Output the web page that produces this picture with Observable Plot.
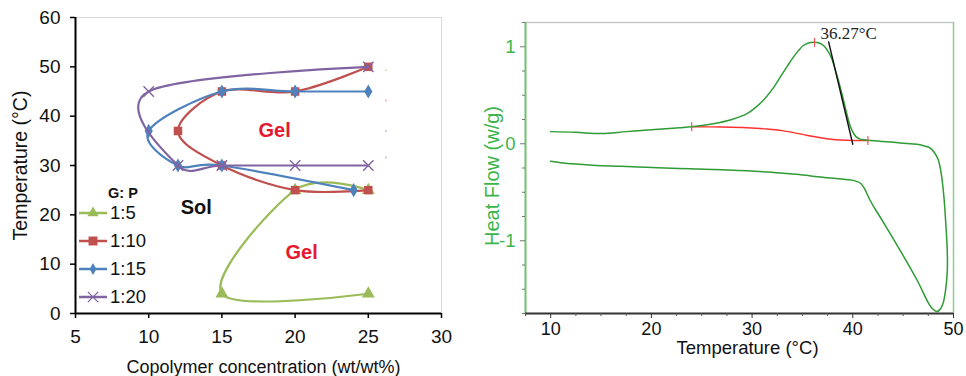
<!DOCTYPE html>
<html><head><meta charset="utf-8">
<script src="https://cdn.jsdelivr.net/npm/d3@7"></script>
<script src="https://cdn.jsdelivr.net/npm/@observablehq/plot@0.6"></script>
<style>
body{margin:0;background:#fff;}
#wrap{position:relative;width:966px;height:376px;overflow:hidden;background:#fff;font-family:"Liberation Sans",Arial,sans-serif;}
#left,#right{position:absolute;top:0;}
#left{left:0}
#right{left:480px}
#legend{position:absolute;left:0;top:0;width:0;height:0;}
#legend div{position:absolute;white-space:nowrap;color:#111;}
</style></head><body>
<div id="wrap"><div id="left"></div><div id="right"></div><div id="legend"></div></div>
<script>
// ---------- Left panel: phase diagram ----------
const seriesNames = ["1:5", "1:10", "1:15", "1:20"];
const seriesColors = ["#9BBB59", "#C0504D", "#4F81BD", "#8064A2"];
const seriesSymbols = ["triangle", "square", "diamond", "times"];
const conc_1_5  = [25, 20, 15, 25];
const temp_1_5  = [25, 25, 4, 4];
const conc_1_10 = [25, 20, 15, 12, 15, 20, 25];
const temp_1_10 = [50, 45, 45, 37, 30, 25, 25];
const conc_1_15 = [25, 20, 15, 10, 12, 15, 24];
const temp_1_15 = [45, 45, 45, 37, 30, 30, 25];
const conc_1_20 = [25, 10, 12, 15, 20, 25];
const temp_1_20 = [50, 45, 30, 30, 30, 30];
const concTicks = [5, 10, 15, 20, 25, 30];
const tempTicks = [0, 10, 20, 30, 40, 50, 60];
const regionLabels = ["Sol", "Gel", "Gel"];
const regionConc = [13.25, 18.6, 20.45];
const regionTemp = [21.4, 37.1, 12.4];
const regionColors = ["#111111", "#E5182F", "#E5182F"];
const strayConc = [26.2, 26.2, 26.2, 26.2];
const strayTemp = [49.3, 43.2, 37.0, 31.6];

// ---------- Right panel: DSC ----------
const dscTemp = [10,12.5,15,17.5,20,22.8,24,26.15,28,29.5,30.3,31.1,32,32.8,33.5,34.1,34.6,35.1,35.6,36.1,36.6,37.1,37.5,37.9,38.3,38.75,39.1,39.4,39.75,40.1,40.4,40.75,41.5,42.7,44.7,46.4,47.2,47.7,48.1,48.5,48.8,49.05,49.25,49.38,49.38,49.2,48.95,48.65,48.3,47.9,47.5,46.4,44.7,43.1,42.2,41.7,41.2,40.8,40.3,39.5,37,34.4,32,29.5,27,24.5,22,19.5,17,14.5,12.5,11,10];
const dscHeatFlow = [0.125,0.118,0.105,0.125,0.145,0.165,0.175,0.206,0.25,0.31,0.37,0.446,0.56,0.687,0.8,0.893,0.96,1.013,1.038,1.047,1.042,1.013,0.96,0.88,0.75,0.584,0.44,0.309,0.18,0.103,0.065,0.048,0.035,0.027,0.008,-0.005,-0.025,-0.045,-0.09,-0.17,-0.32,-0.55,-0.85,-1.1,-1.32,-1.52,-1.65,-1.71,-1.73,-1.7,-1.64,-1.41,-1.1,-0.82,-0.67,-0.58,-0.47,-0.41,-0.385,-0.37,-0.345,-0.315,-0.295,-0.278,-0.268,-0.26,-0.252,-0.242,-0.232,-0.224,-0.21,-0.195,-0.18];
const baseTemp = [24, 27, 29.5, 31.5, 33, 35.4, 37.4, 39.4, 41.5];
const baseHeatFlow = [0.175, 0.172, 0.165, 0.152, 0.135, 0.088, 0.052, 0.036, 0.034];
const tangentTemp = [37.6, 40.0];
const tangentHeatFlow = [1.05, -0.005];
const markTemp = [24, 36.2, 41.5];
const markHeatFlow = [0.175, 1.045, 0.034];
const onsetLabel = "36.27°C";
const onsetTemp = 36.8, onsetHeatFlow = 1.14;
const dscTempTicks = [10, 20, 30, 40, 50];
const dscTempMinor = [7.5, 12.5, 15, 17.5, 22.5, 25, 27.5, 32.5, 35, 37.5, 42.5, 45, 47.5];
const dscHFTicks = [-1, 0, 1];
const dscHFMinor = [-1.75, -1.5, -1.25, -0.75, -0.5, -0.25, 0.25, 0.5, 0.75, 1.25];

const FONT = '"Liberation Sans", Arial, sans-serif';
const green = "#3BB54A";

// ----- left plot -----
const concs = [conc_1_5, conc_1_10, conc_1_15, conc_1_20];
const temps = [temp_1_5, temp_1_10, temp_1_15, temp_1_20];
const leftMarks = [
  Plot.frame({stroke: "#d9d9d9"}),
];
seriesNames.forEach((name, i) => {
  const pts = concs[i].map((c, j) => ({c, t: temps[i][j]}));
  leftMarks.push(Plot.line(pts, {x: "c", y: "t", curve: "cardinal", stroke: seriesColors[i], strokeWidth: 2.2}));
  const isTimes = seriesSymbols[i] === "times";
  leftMarks.push(Plot.dot(pts, {
    x: "c", y: "t", symbol: seriesSymbols[i],
    r: isTimes ? 4.8 : (seriesSymbols[i] === "diamond" ? 4.3 : 4.8),
    fill: isTimes ? "none" : seriesColors[i],
    stroke: isTimes ? seriesColors[i] : "none",
    strokeWidth: 1.4
  }));
});
const stray = strayConc.map((c, i) => ({c, t: strayTemp[i], col: seriesColors[i]}));
leftMarks.push(Plot.dot(stray, {x: "c", y: "t", r: 1, fill: d => d.col, fillOpacity: 0.45}));
const regions = regionLabels.map((s, i) => ({s, c: regionConc[i], t: regionTemp[i], col: regionColors[i]}));
leftMarks.push(Plot.text(regions, {x: "c", y: "t", text: "s", fill: d => d.col, fontWeight: "bold", fontSize: 20}));
leftMarks.push(Plot.ruleX([concTicks[0]], {stroke: "#000", strokeWidth: 2}));
leftMarks.push(Plot.ruleY([tempTicks[0]], {stroke: "#000", strokeWidth: 2}));
leftMarks.push(Plot.axisX(concTicks, {tickSize: 5, tickPadding: 11, fontSize: 19, label: null, stroke: "#000", strokeWidth: 1.5}));
leftMarks.push(Plot.axisY(tempTicks, {tickSize: 5, tickPadding: 10, fontSize: 19, label: null, stroke: "#000", strokeWidth: 1.5}));
leftMarks.push(Plot.text(["Copolymer concentration (wt/wt%)"], {text: d => d, frameAnchor: "bottom", lineAnchor: "middle", textAnchor: "middle", dy: 54, dx: 5, fontSize: 18}));
leftMarks.push(Plot.text(["Temperature (°C)"], {text: d => d, frameAnchor: "left", textAnchor: "middle", lineAnchor: "middle", dx: -55, rotate: -90, fontSize: 19.5}));

const leftPlot = Plot.plot({
  width: 460, height: 376,
  marginLeft: 75, marginRight: 19, marginTop: 17, marginBottom: 63,
  style: {fontFamily: FONT, color: "#111", background: "transparent", overflow: "visible"},
  x: {domain: [5, 30], axis: null},
  y: {domain: [0, 60], axis: null},
  marks: leftMarks
});
document.getElementById("left").appendChild(leftPlot);

// legend
const leg = d3.select("#legend");
leg.append("div").text("G: P").style("left", "108px").style("top", "185px")
  .style("font-size", "14.5px").style("font-weight", "bold").style("line-height", "16px");
const legY = [212.7, 240.5, 268.8, 296.7];
const d3sym = {triangle: d3.symbolTriangle, square: d3.symbolSquare, diamond: d3.symbolDiamond, times: d3.symbolTimes};
const legSize = {triangle: 55, square: 80, diamond: 40, times: 70};
seriesNames.forEach((name, i) => {
  const cy = legY[i];
  const sv = leg.append("div").style("left", "79px").style("top", (cy - 10) + "px")
    .append("svg").attr("width", 29).attr("height", 20).style("display", "block");
  sv.append("line").attr("x1", 0).attr("x2", 28).attr("y1", 10).attr("y2", 10)
    .attr("stroke", seriesColors[i]).attr("stroke-width", 2.5);
  const s = seriesSymbols[i];
  sv.append("path").attr("transform", "translate(14,10)")
    .attr("d", d3.symbol(d3sym[s], legSize[s])())
    .attr("fill", s === "times" ? "none" : seriesColors[i])
    .attr("stroke", s === "times" ? seriesColors[i] : "none").attr("stroke-width", 1.3);
  leg.append("div").text(name).style("left", "110px").style("top", (cy - 11) + "px")
    .style("font-size", "18.5px").style("line-height", "22px");
});

// ----- right plot -----
const dsc = dscTemp.map((t, i) => ({t, h: dscHeatFlow[i]}));
const base = baseTemp.map((t, i) => ({t, h: baseHeatFlow[i]}));
const tang = tangentTemp.map((t, i) => ({t, h: tangentHeatFlow[i]}));
const marksPts = markTemp.map((t, i) => ({t, h: markHeatFlow[i]}));
const vbar = {draw(ctx, size) { const h = Math.sqrt(size / Math.PI); ctx.moveTo(0, -h); ctx.lineTo(0, h); }};
const xD = [7.5, 50], yD = [-1.75, 1.25];

const rightPlot = Plot.plot({
  width: 486, height: 376,
  marginLeft: 45, marginRight: 13, marginTop: 22, marginBottom: 63,
  style: {fontFamily: FONT, color: "#111", background: "transparent", overflow: "visible"},
  x: {domain: xD, axis: null},
  y: {domain: yD, axis: null},
  marks: [
    Plot.ruleY([yD[1]], {stroke: "#c8c8c8", strokeWidth: 1.5}),
    Plot.ruleX([xD[1]], {stroke: "#8fd08f", strokeWidth: 1.5}),
    Plot.line(base, {x: "t", y: "h", curve: "catmull-rom", stroke: "#FF3030", strokeWidth: 1.4}),
    Plot.line(dsc, {x: "t", y: "h", curve: "catmull-rom", stroke: "#2E9B35", strokeWidth: 1.5}),
    Plot.line(tang, {x: "t", y: "h", stroke: "#111", strokeWidth: 1.4}),
    Plot.dot(marksPts, {x: "t", y: "h", symbol: vbar, r: 4.5, stroke: "#F25555", strokeWidth: 1.2, fill: "none"}),
    Plot.text([onsetLabel], {text: d => d, x: onsetTemp, y: onsetHeatFlow, textAnchor: "start", fontFamily: '"Liberation Serif", "Times New Roman", serif', fontSize: 17, fill: "#222"}),
    Plot.ruleX([xD[0]], {stroke: "#6cc46c", strokeWidth: 2}),
    Plot.ruleY([yD[0]], {stroke: "#333", strokeWidth: 2}),
    Plot.axisX(dscTempMinor, {tickSize: 3, tickFormat: () => "", label: null, stroke: "#555"}),
    Plot.axisX(dscTempTicks, {tickSize: 5, tickPadding: 4, fontSize: 18, label: null, stroke: "#333"}),
    Plot.axisY(dscHFMinor, {tickSize: 3, tickFormat: () => "", label: null, stroke: "#777"}),
    Plot.axisY(dscHFTicks, {tickSize: 5, tickPadding: 5, fontSize: 18.5, label: null, stroke: "#777", fill: green, tickFormat: d => String(d)}),
    Plot.text(["Temperature (°C)"], {text: d => d, frameAnchor: "bottom", lineAnchor: "middle", textAnchor: "middle", dy: 35, dx: 8, fontSize: 18.5}),
    Plot.text(["Heat Flow (w/g)"], {text: d => d, frameAnchor: "left", textAnchor: "middle", lineAnchor: "middle", dx: -33, dy: 8, rotate: -90, fontSize: 20, fill: green})
  ]
});
document.getElementById("right").appendChild(rightPlot);
</script>
</body></html>
